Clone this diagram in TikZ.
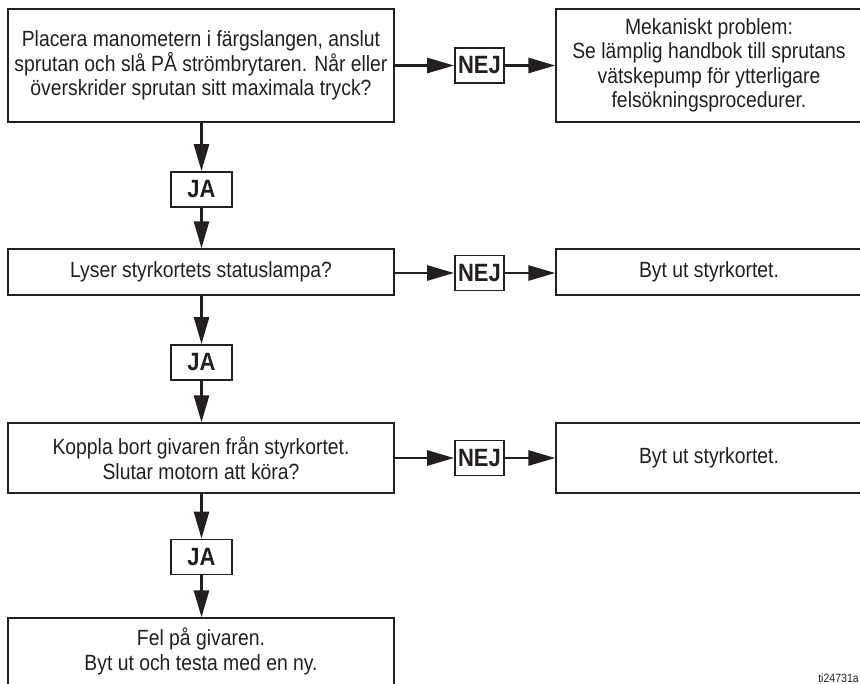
\documentclass[tikz,border=0pt]{standalone}
\usepackage{fontspec}
\setmainfont[FakeStretch=0.88]{Liberation Sans}
\usetikzlibrary{arrows.meta}
\definecolor{ink}{HTML}{231F20}
\tikzset{
  box/.style={draw=ink, line width=1.3pt, rectangle, inner sep=0pt, align=center,
    text=ink, font=\fontsize{22}{24.5}\selectfont, minimum width=386pt},
  rbox/.style={box, minimum width=306pt},
  tag/.style={draw=ink, line width=1.8pt, rectangle, inner sep=0pt, text=ink,
    font=\fontsize{25}{25}\selectfont\bfseries, minimum height=35pt},
  nej/.style={tag, minimum width=49pt},
  ja/.style={tag, minimum width=61pt},
  flow/.style={draw=ink, line width=2.7pt, -{Triangle[length=27pt,width=15pt]}},
}
\begin{document}
\begin{tikzpicture}[x=1pt,y=-1pt]
\useasboundingbox (0,0) rectangle (860,684);
\clip (0,0) rectangle (860,684);

% row 1
\node[box, minimum height=113pt] (q1) at (201,65.5)
  {Placera manometern i färgslangen, anslut\\sprutan och slå PÅ strömbrytaren. Når eller\\överskrider sprutan sitt maximala tryck?};
\node[nej] (n1) at (479.5,65.5) {NEJ};
\node[rbox, minimum height=113pt] (r1) at (709,65.5)
  {Mekaniskt problem:\\Se lämplig handbok till sprutans\\vätskepump för ytterligare\\felsökningsprocedurer.};
\node[ja] (j1) at (201.5,189.5) {JA};

% row 2
\node[box, minimum height=46pt] (q2) at (201,272) {Lyser styrkortets statuslampa?};
\node[nej] (n2) at (479.5,273) {NEJ};
\node[rbox, minimum height=46pt] (r2) at (709,272) {Byt ut styrkortet.};
\node[ja] (j2) at (201.5,362.5) {JA};

% row 3
\node[box, minimum height=70pt] (q3) at (201,458)
  {Koppla bort givaren från styrkortet.\\Slutar motorn att köra?};
\node[nej] (n3) at (479.5,458) {NEJ};
\node[rbox, minimum height=70pt] (r3) at (709,458) {Byt ut styrkortet.};
\node[ja] (j3) at (201.5,557) {JA};

% row 4
\node[box, minimum height=67pt] (q4) at (201,651.5)
  {Fel på givaren.\\Byt ut och testa med en ny.};

\node[anchor=south east, inner sep=0pt, text=ink, font=\fontsize{12}{12}\selectfont] (ti) at (859,683) {ti24731a};

% connectors
\draw[flow] (q1.east |- n1) -- (n1.west);
\draw[flow] (n1.east) -- (r1.west |- n1);
\draw[flow] (q2.east |- n2) -- (n2.west);
\draw[flow] (n2.east) -- (r2.west |- n2);
\draw[flow] (q3.east |- n3) -- (n3.west);
\draw[flow] (n3.east) -- (r3.west |- n3);

\draw[flow] (q1.south -| j1) -- (j1.north);
\draw[flow] (j1.south) -- (q2.north -| j1);
\draw[flow] (q2.south -| j2) -- (j2.north);
\draw[flow] (j2.south) -- (q3.north -| j2);
\draw[flow] (q3.south -| j3) -- (j3.north);
\draw[flow] (j3.south) -- (q4.north -| j3);
\end{tikzpicture}
\end{document}
